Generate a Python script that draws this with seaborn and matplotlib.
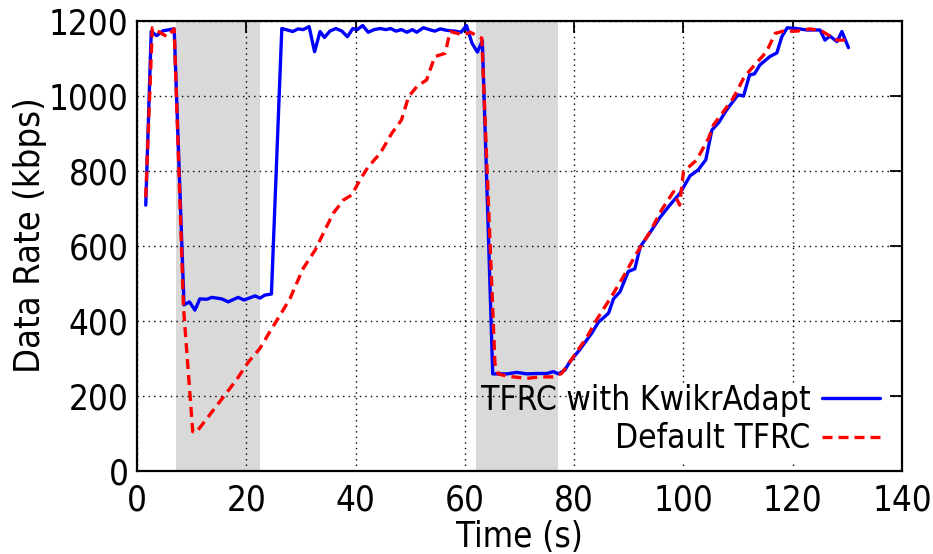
import numpy as np
import pandas as pd
import matplotlib
matplotlib.use("Agg")
import matplotlib.pyplot as plt
from matplotlib.patches import Rectangle
import seaborn as sns

# ---- data ----
kwikr_t = [1.6, 2.6, 3.6, 4.8, 6.8, 8.6, 9.6, 10.6, 11.5, 12.8, 13.7, 15.5, 16.7, 18.5, 19.6,
           21.6, 22.5, 23.4, 24.6, 26.5, 28.5, 29.5, 30.4, 31.5, 32.5, 33.5, 34.3, 35.3, 36.4, 37.5,
           38.5, 39.5, 40.3, 41.3, 42.3, 43.4, 44.5, 45.6, 46.4, 47.4, 48.4, 49.4, 50.4, 51.2, 52.4,
           53.5, 54.5, 55.5, 56.7, 58.2, 59.3, 60.3, 61.3, 62.3, 63.2, 65.1, 67.7, 69.5, 71.3, 73.2,
           75.0, 76.2, 77.1, 78.3, 79.2, 81.1, 83.2, 84.4, 86.3, 87.2, 88.4, 89.9, 91.1, 92.1, 93.9,
           95.7, 97.5, 99.4, 101.2, 102.7, 104.1, 105.2, 106.5, 107.9, 110.0, 111.0, 112.1, 113.0,
           114.0, 115.8, 117.1, 118.0, 119.0, 120.7, 122.6, 125.0, 125.9, 126.8, 128.1, 129.0, 130.2]
kwikr_v = [709, 1172, 1161, 1174, 1179, 443, 451, 429, 459, 458, 463, 459, 451, 463, 456,
           467, 461, 469, 472, 1180, 1172, 1179, 1177, 1185, 1118, 1172, 1156, 1173, 1180, 1173,
           1158, 1180, 1177, 1188, 1170, 1177, 1180, 1177, 1180, 1173, 1177, 1170, 1177, 1170, 1182,
           1177, 1173, 1179, 1175, 1173, 1170, 1188, 1141, 1117, 1147, 259, 259, 263, 259, 260,
           260, 265, 259, 269, 291, 325, 367, 396, 421, 459, 478, 532, 539, 598, 636,
           676, 709, 741, 787, 803, 830, 909, 930, 963, 1003, 1000, 1056, 1059,
           1083, 1105, 1115, 1158, 1182, 1180, 1176, 1176, 1149, 1160, 1145, 1172, 1129]

default_t = [1.6, 2.8, 5.5, 6.8, 8.5, 10.2, 10.8, 12.1, 14.0, 16.1, 18.2, 20.4, 22.5, 24.3, 26.2,
             28.0, 30.4, 32.6, 34.4, 35.9, 37.8, 39.3, 40.8, 42.3, 44.5, 46.6, 48.4, 49.7, 51.2,
             53.0, 54.5, 56.4, 57.3, 59.7, 61.0, 63.1, 65.5, 66.1, 67.7, 71.3, 73.8, 76.2, 77.7,
             79.2, 82.3, 84.1, 87.2, 89.0, 91.4, 93.9, 96.0, 98.2, 99.3, 100.0, 102.4, 104.6,
             105.5, 107.3, 109.1, 111.0, 112.2, 115.2, 116.8, 118.3, 120.7, 123.2, 125.3, 128.1, 130.2]
default_v = [730, 1182, 1158, 1179, 438, 105, 102, 127, 163, 203, 243, 291, 327, 371, 416,
             460, 540, 589, 643, 687, 723, 736, 776, 811, 847, 900, 936, 998, 1025,
             1043, 1105, 1114, 1172, 1163, 1170, 1154, 287, 259, 253, 247, 251, 251, 260,
             291, 356, 403, 474, 518, 580, 638, 696, 745, 709, 798, 829, 887,
             923, 958, 994, 1047, 1069, 1118, 1167, 1173, 1173, 1179, 1173, 1149, 1149]

series_names = ["TFRC with KwikrAdapt", "Default TFRC"]
shaded_spans = [(7.1, 22.5), (62.1, 77.0)]
x_ticks = [0, 20, 40, 60, 80, 100, 120, 140]
y_ticks = [0, 200, 400, 600, 800, 1000, 1200]

# ---- style ----
sns.set_theme(style="white")
plt.rcParams["font.family"] = ["DejaVu Sans"]
plt.rcParams["font.stretch"] = "condensed"
plt.rcParams["axes.linewidth"] = 1.6
plt.rcParams["text.color"] = "black"
plt.rcParams["axes.labelcolor"] = "black"

fig = plt.figure(figsize=(9.33, 5.54), dpi=100)
ax = fig.add_axes([137/933, 1 - 471/554, (902-137)/933, (471-21)/554])

for a, b in shaded_spans:
    ax.axvspan(a, b, color="#d9d9d9", lw=0, zorder=0)

# opaque key area (as in the original key box)
ax.add_patch(Rectangle(((590-137)/765, (471-462)/450), (890-590)/765, (462-384)/450,
                       transform=ax.transAxes, facecolor="white", edgecolor="none", zorder=1.5))

df1 = pd.DataFrame({"t": kwikr_t, "v": kwikr_v})
df2 = pd.DataFrame({"t": default_t, "v": default_v})
sns.lineplot(data=df1, x="t", y="v", ax=ax, color="#0000ff", lw=2.4, label=series_names[0], zorder=3)
sns.lineplot(data=df2, x="t", y="v", ax=ax, color="#ff0000", lw=2.4, label=series_names[1],
             linestyle=(0, (3.0, 1.8)), zorder=4)

ax.set_xlim(0, 140)
ax.set_ylim(0, 1200)
ax.set_xticks(x_ticks)
ax.set_yticks(y_ticks)
ax.grid(True, color="black", linestyle=(0, (1, 3)), linewidth=1.0, zorder=1)
ax.set_axisbelow(True)
for s in ax.spines.values():
    s.set_color("black")
    s.set_zorder(5)

ax.tick_params(axis="both", which="major", direction="in", length=8.5, width=1.3,
               top=True, right=True, labelsize=25, colors="black", pad=6)
ax.tick_params(axis="x", pad=9)
ax.set_xlabel("Time (s)", fontsize=25, labelpad=2)
ax.set_ylabel("Data Rate (kbps)", fontsize=26)
ax.yaxis.set_label_coords((47 - 137) / 765, (471 - 235) / 450)

leg = ax.legend(loc="lower right", bbox_to_anchor=(1.0 - 6/765, 0.0), markerfirst=False,
                frameon=False, fontsize=24, handlelength=1.75, handletextpad=0.35,
                labelspacing=0.17, borderpad=0.2, borderaxespad=0.27)
leg.set_zorder(6)

fig.savefig("out.png", dpi=100)
